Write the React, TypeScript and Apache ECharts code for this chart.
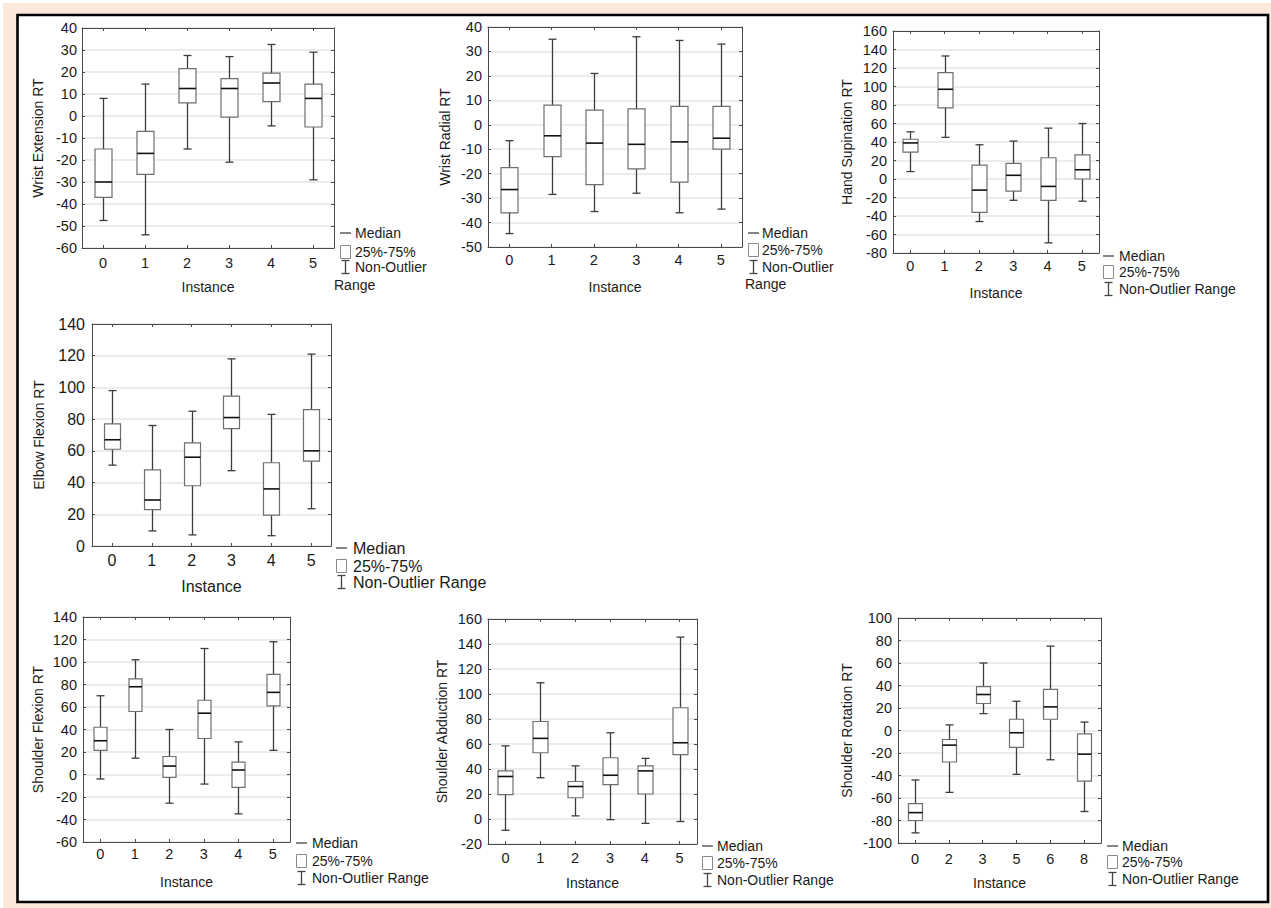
import React, { useEffect, useRef } from "react";
import * as echarts from "echarts";

const FONT = '"Liberation Sans", Arial, Helvetica, sans-serif';

// categories
const instancesA = ["0", "1", "2", "3", "4", "5"];
const instancesRotation = ["0", "2", "3", "5", "6", "8"];

// each row: [non-outlier min, 25%, median, 75%, non-outlier max]
const wristExtension = [
  [-47.5, -37, -30, -15, 8],
  [-54, -26.5, -17, -7, 14.5],
  [-15, 6, 12.5, 21.5, 27.5],
  [-21, -0.5, 12.5, 17, 27],
  [-4.5, 6.5, 15, 19.5, 32.5],
  [-29, -5, 8, 14.5, 29],
];
const wristRadial = [
  [-44.5, -36, -26.5, -17.5, -6.5],
  [-28.5, -13, -4.5, 8, 35],
  [-35.5, -24.5, -7.5, 6, 21],
  [-28, -18, -8, 6.5, 36],
  [-36, -23.5, -7, 7.5, 34.5],
  [-34.5, -10, -5.5, 7.5, 33],
];
const handSupination = [
  [8, 29, 39, 43, 51],
  [45, 77, 97, 115, 133],
  [-46, -36, -12, 15, 37],
  [-23, -13, 4, 17, 41],
  [-69, -23, -8, 23, 55],
  [-24, 0, 10, 26, 60],
];
const elbowFlexion = [
  [51, 61, 67, 77, 98],
  [9.5, 23, 29, 48, 76],
  [7, 38, 56, 65, 85],
  [47.5, 74, 81, 94.5, 118],
  [6.5, 19.5, 36, 52.5, 83],
  [23.5, 53.5, 60, 86, 121],
];
const shoulderFlexion = [
  [-4, 21.5, 30, 42, 70],
  [14.5, 56, 78, 85, 102],
  [-25.5, -2.5, 7.5, 16, 40],
  [-8.5, 32, 54.5, 66, 112],
  [-35, -11.5, 4, 11, 29],
  [21.5, 61, 73, 89, 118],
];
const shoulderAbduction = [
  [-9, 19.5, 34, 38.5, 58.5],
  [33, 53, 64.5, 78, 109],
  [2.5, 17, 26, 30, 42.5],
  [-0.5, 27.5, 35, 49, 69],
  [-3.5, 20, 38.5, 42.5, 48.5],
  [-2, 51.5, 61, 89, 145.5],
];
const shoulderRotation = [
  [-91, -80, -73, -65, -44],
  [-55, -28, -13, -8, 5],
  [15, 24, 32, 39, 60],
  [-39, -15, -2, 10, 26],
  [-26, 10, 21, 36.5, 75],
  [-72, -45, -21, -3, 7.5],
];

const yTitles = [
  "Wrist Extension RT",
  "Wrist Radial RT",
  "Hand Supination RT",
  "Elbow Flexion RT",
  "Shoulder Flexion RT",
  "Shoulder Abduction RT",
  "Shoulder Rotation RT",
];
const xTitle = "Instance";
const legendTexts = ["Median", "25%-75%", "Non-Outlier Range"];

const panels = [
  { title: yTitles[0], cats: instancesA, data: wristExtension, min: -60, max: 40, interval: 10,
    box: { left: 82, top: 28, width: 252, height: 220 }, bw: 17, tick: 14.5, nameSize: 14,
    xMargin: 7, yMargin: 5, xGap: 32, yGap: 37,
    leg: { x: 340, tx: 355, y1: 233, y2: 252, y3: 267, size: 14, wrap: { x: 334, y: 285 } } },
  { title: yTitles[1], cats: instancesA, data: wristRadial, min: -50, max: 40, interval: 10,
    box: { left: 488, top: 27, width: 254, height: 220 }, bw: 17, tick: 14.5, nameSize: 14,
    xMargin: 5, yMargin: 6, xGap: 33, yGap: 36,
    leg: { x: 748, tx: 762, y1: 233, y2: 250, y3: 267, size: 14, wrap: { x: 745, y: 284 } } },
  { title: yTitles[2], cats: instancesA, data: handSupination, min: -80, max: 160, interval: 20,
    box: { left: 893, top: 31, width: 206, height: 222 }, bw: 15, tick: 14.5, nameSize: 14,
    xMargin: 5, yMargin: 6, xGap: 33, yGap: 39,
    leg: { x: 1103, tx: 1119, y1: 256, y2: 272, y3: 289, size: 14 } },
  { title: yTitles[3], cats: instancesA, data: elbowFlexion, min: 0, max: 140, interval: 20,
    box: { left: 92, top: 324, width: 239, height: 222 }, bw: 16, tick: 16, nameSize: 16, yNameSize: 14,
    xMargin: 6, yMargin: 7, xGap: 32, yGap: 46,
    leg: { x: 336, tx: 353, y1: 548, y2: 566, y3: 582, size: 16 } },
  { title: yTitles[4], cats: instancesA, data: shoulderFlexion, min: -60, max: 140, interval: 20,
    box: { left: 83, top: 617, width: 207, height: 225 }, bw: 13, tick: 14.5, nameSize: 14,
    xMargin: 4, yMargin: 6, xGap: 33, yGap: 38,
    leg: { x: 296, tx: 312, y1: 843, y2: 861, y3: 878, size: 14 } },
  { title: yTitles[5], cats: instancesA, data: shoulderAbduction, min: -20, max: 160, interval: 20,
    box: { left: 488, top: 619, width: 209, height: 225 }, bw: 15, tick: 14.5, nameSize: 14,
    xMargin: 6, yMargin: 6, xGap: 32, yGap: 39,
    leg: { x: 702, tx: 717, y1: 846, y2: 863, y3: 880, size: 14 } },
  { title: yTitles[6], cats: instancesRotation, data: shoulderRotation, min: -100, max: 100, interval: 20,
    box: { left: 898, top: 618, width: 203, height: 225 }, bw: 14, tick: 14.5, nameSize: 14,
    xMargin: 8, yMargin: 6, xGap: 33, yGap: 44,
    leg: { x: 1107, tx: 1122, y1: 846, y2: 862, y3: 879, size: 14 } },
];

const AXIS = "#4a4a4a";
const TEXT = "#1a1a1a";

function makeRenderItem(bw: number) {
  return (params: any, api: any) => {
    const x = api.value(0);
    const pLow = api.coord([x, api.value(1)]);
    const pQ1 = api.coord([x, api.value(2)]);
    const pMed = api.coord([x, api.value(3)]);
    const pQ3 = api.coord([x, api.value(4)]);
    const pHigh = api.coord([x, api.value(5)]);
    const cx = Math.round(pLow[0]) + 0.5;
    const half = bw / 2;
    const cap = 4;
    const wStyle = { stroke: "#3c3c3c", lineWidth: 1.3 };
    return {
      type: "group",
      children: [
        { type: "line", shape: { x1: cx, y1: pHigh[1], x2: cx, y2: pQ3[1] }, style: wStyle },
        { type: "line", shape: { x1: cx, y1: pQ1[1], x2: cx, y2: pLow[1] }, style: wStyle },
        { type: "line", shape: { x1: cx - cap, y1: pHigh[1], x2: cx + cap, y2: pHigh[1] }, style: wStyle },
        { type: "line", shape: { x1: cx - cap, y1: pLow[1], x2: cx + cap, y2: pLow[1] }, style: wStyle },
        {
          type: "rect",
          shape: { x: cx - half, y: pQ3[1], width: bw, height: pQ1[1] - pQ3[1] },
          style: { fill: "#ffffff", stroke: "#6e6e6e", lineWidth: 1.2 },
        },
        {
          type: "line",
          shape: { x1: cx - half, y1: pMed[1], x2: cx + half, y2: pMed[1] },
          style: { stroke: "#111111", lineWidth: 1.6 },
        },
      ],
    };
  };
}

function legendGraphics(p: any) {
  const L = p.leg;
  const st = { stroke: "#444", lineWidth: 1.3 };
  const txt = (x: number, y: number, t: string) => ({
    type: "text",
    x,
    y,
    style: { text: t, fill: TEXT, font: `${L.size}px ${FONT}`, verticalAlign: "middle", align: "left" },
  });
  const els: any[] = [
    { type: "line", shape: { x1: L.x, y1: L.y1, x2: L.x + 11, y2: L.y1 }, style: st },
    txt(L.tx, L.y1, legendTexts[0]),
    { type: "rect", shape: { x: L.x + 0.5, y: L.y2 - 6.5, width: 10, height: 13 }, style: { fill: "#fff", stroke: "#8a8a8a", lineWidth: 1 } },
    txt(L.tx, L.y2, legendTexts[1]),
    { type: "line", shape: { x1: L.x + 5.5, y1: L.y3 - 6.5, x2: L.x + 5.5, y2: L.y3 + 6.5 }, style: st },
    { type: "line", shape: { x1: L.x + 1.5, y1: L.y3 - 6.5, x2: L.x + 9.5, y2: L.y3 - 6.5 }, style: st },
    { type: "line", shape: { x1: L.x + 1.5, y1: L.y3 + 6.5, x2: L.x + 9.5, y2: L.y3 + 6.5 }, style: st },
  ];
  if (L.wrap) {
    els.push(txt(L.tx, L.y3, "Non-Outlier"));
    els.push(txt(L.wrap.x, L.wrap.y, "Range"));
  } else {
    els.push(txt(L.tx, L.y3, legendTexts[2]));
  }
  return els;
}

export default function App() {
  const ref = useRef<HTMLDivElement>(null);
  useEffect(() => {
    if (!ref.current) return;
    const chart = echarts.init(ref.current, null, { renderer: "svg" });
    const grid: any[] = [];
    const xAxis: any[] = [];
    const yAxis: any[] = [];
    const series: any[] = [];
    const graphic: any[] = [
      { type: "rect", z: -20, shape: { x: 3, y: 3, width: 1268, height: 905 }, style: { fill: "#fce8da" } },
      {
        type: "rect",
        z: -19,
        shape: { x: 17.5, y: 15, width: 1250.5, height: 887 },
        style: { fill: "#ffffff", stroke: "#000000", lineWidth: 2.6 },
      },
    ];
    panels.forEach((p, i) => {
      grid.push({ left: p.box.left, top: p.box.top, width: p.box.width, height: p.box.height, containLabel: false });
      const tickStyle = { show: true, inside: true, length: 3, alignWithLabel: true, lineStyle: { color: AXIS, width: 1 } };
      xAxis.push({
        type: "category",
        gridIndex: i,
        data: p.cats,
        position: "bottom",
        boundaryGap: true,
        axisLine: { show: true, onZero: false, lineStyle: { color: AXIS, width: 1 } },
        axisTick: tickStyle,
        axisLabel: { show: true, color: TEXT, fontSize: p.tick, fontFamily: FONT, margin: p.xMargin },
        splitLine: { show: false },
        name: xTitle,
        nameLocation: "middle",
        nameGap: p.xGap,
        nameTextStyle: { color: TEXT, fontSize: p.nameSize, fontFamily: FONT },
      });
      xAxis.push({
        type: "category",
        gridIndex: i,
        data: p.cats,
        position: "top",
        boundaryGap: true,
        axisLine: { show: true, onZero: false, lineStyle: { color: AXIS, width: 1 } },
        axisTick: tickStyle,
        axisLabel: { show: false },
        splitLine: { show: false },
      });
      yAxis.push({
        type: "value",
        gridIndex: i,
        position: "left",
        min: p.min,
        max: p.max,
        interval: p.interval,
        axisLine: { show: true, onZero: false, lineStyle: { color: AXIS, width: 1 } },
        axisTick: { show: true, inside: true, length: 3, lineStyle: { color: AXIS } },
        axisLabel: { show: true, color: TEXT, fontSize: p.tick, fontFamily: FONT, margin: p.yMargin },
        splitLine: { show: true, lineStyle: { color: "#e6e6e6", width: 1.5 } },
        name: p.title,
        nameLocation: "middle",
        nameGap: p.yGap,
        nameTextStyle: { color: TEXT, fontSize: (p as any).yNameSize || p.nameSize, fontFamily: FONT },
      });
      yAxis.push({
        type: "value",
        gridIndex: i,
        position: "right",
        min: p.min,
        max: p.max,
        interval: p.interval,
        axisLine: { show: true, onZero: false, lineStyle: { color: AXIS, width: 1 } },
        axisTick: { show: true, inside: true, length: 3, lineStyle: { color: AXIS } },
        axisLabel: { show: false },
        splitLine: { show: false },
      });
      series.push({
        type: "custom",
        xAxisIndex: 2 * i,
        yAxisIndex: 2 * i,
        renderItem: makeRenderItem(p.bw),
        encode: { x: 0, y: [1, 2, 3, 4, 5] },
        data: p.data.map((row, k) => [k, ...row]),
        z: 5,
      });
      graphic.push(...legendGraphics(p));
    });
    chart.setOption({
      animation: false,
      backgroundColor: "#ffffff",
      textStyle: { fontFamily: FONT },
      grid,
      xAxis,
      yAxis,
      series,
      graphic,
    });
    return () => chart.dispose();
  }, []);
  return (
    <div
      ref={ref}
      style={{ position: "absolute", left: 0, top: 0, width: 1271, height: 908 }}
    />
  );
}
